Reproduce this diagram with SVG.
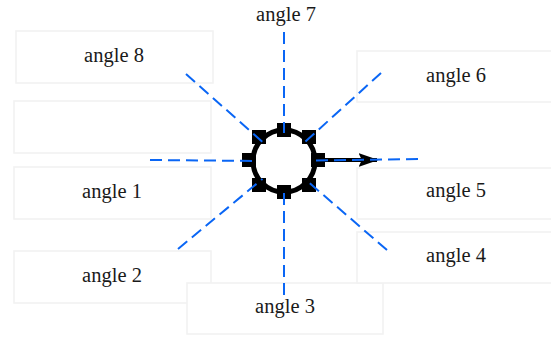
<svg xmlns="http://www.w3.org/2000/svg" width="551" height="338" viewBox="0 0 551 338">
<style>
.box{fill:#fff;stroke:#f2f2f2;stroke-width:1.6}
.lbl{font-family:"Liberation Serif","Times New Roman",serif;font-size:20.5px;fill:#1a1a1a;text-anchor:middle}
.ray{stroke:#0a66f5;stroke-width:2;stroke-dasharray:12,6;fill:none}
.sq{fill:#000}
</style>
<defs>
<marker id="ah" markerWidth="5" markerHeight="3.4" refX="4.6" refY="1.7" orient="auto" markerUnits="strokeWidth">
<path d="M0,0 L5,1.7 L0,3.4 L0.8,1.7 Z" fill="#000"/>
</marker>
</defs>
<rect width="551" height="338" fill="#fff"/>
<g id="node-angle8"><rect class="box" x="16" y="31" width="197" height="52"/><text class="lbl" x="114" y="62">angle 8</text></g>
<g id="node-empty"><rect class="box" x="14" y="101" width="197" height="52"/></g>
<g id="node-angle1"><rect class="box" x="14" y="167" width="197" height="52"/><text class="lbl" x="112" y="198">angle 1</text></g>
<g id="node-angle2"><rect class="box" x="14" y="251" width="197" height="52"/><text class="lbl" x="112" y="282">angle 2</text></g>
<g id="node-angle3"><rect class="box" x="187" y="283" width="196" height="51"/><text class="lbl" x="285" y="313">angle 3</text></g>
<g id="node-angle4"><rect class="box" x="357" y="232" width="197" height="51"/><text class="lbl" x="456" y="262">angle 4</text></g>
<g id="node-angle5"><rect class="box" x="357" y="168" width="197" height="51"/><text class="lbl" x="456" y="197">angle 5</text></g>
<g id="node-angle6"><rect class="box" x="357" y="51" width="197" height="51"/><text class="lbl" x="456" y="82">angle 6</text></g>
<g id="node-angle7"><text class="lbl" x="286" y="21">angle 7</text></g>
<g id="node-hub">
<circle cx="284" cy="161" r="31" fill="none" stroke="#000" stroke-width="5"/>
<rect class="sq" x="277" y="123" width="14" height="14"/>
<rect class="sq" x="277" y="185" width="14" height="14"/>
<rect class="sq" x="242" y="153" width="14" height="14"/>
<rect class="sq" x="311" y="153" width="14" height="14"/>
<rect class="sq" x="252" y="130" width="14" height="14"/>
<rect class="sq" x="302" y="130" width="14" height="14"/>
<rect class="sq" x="252" y="178" width="14" height="14"/>
<rect class="sq" x="302" y="178" width="14" height="14"/>
</g>
<g id="connectors">
<line x1="318" y1="160" x2="377" y2="160" stroke="#000" stroke-width="4" marker-end="url(#ah)"/>
<line class="ray" x2="284" y2="133" x1="284" y1="32"/>
<line class="ray" x2="284" y2="189" x1="284" y1="295"/>
<line class="ray" x2="256" y2="161" x1="150" y1="160"/>
<line class="ray" x2="312" y2="160.5" x1="418" y1="159"/>
<line class="ray" x2="263" y2="142.4" x1="186" y1="74"/>
<line class="ray" x2="304.7" y2="142.2" x1="381" y1="73"/>
<line class="ray" x2="262.5" y2="178.9" x1="178" y1="249"/>
<line class="ray" x2="305.2" y2="179.3" x1="387" y1="250"/>
</g>
</svg>
